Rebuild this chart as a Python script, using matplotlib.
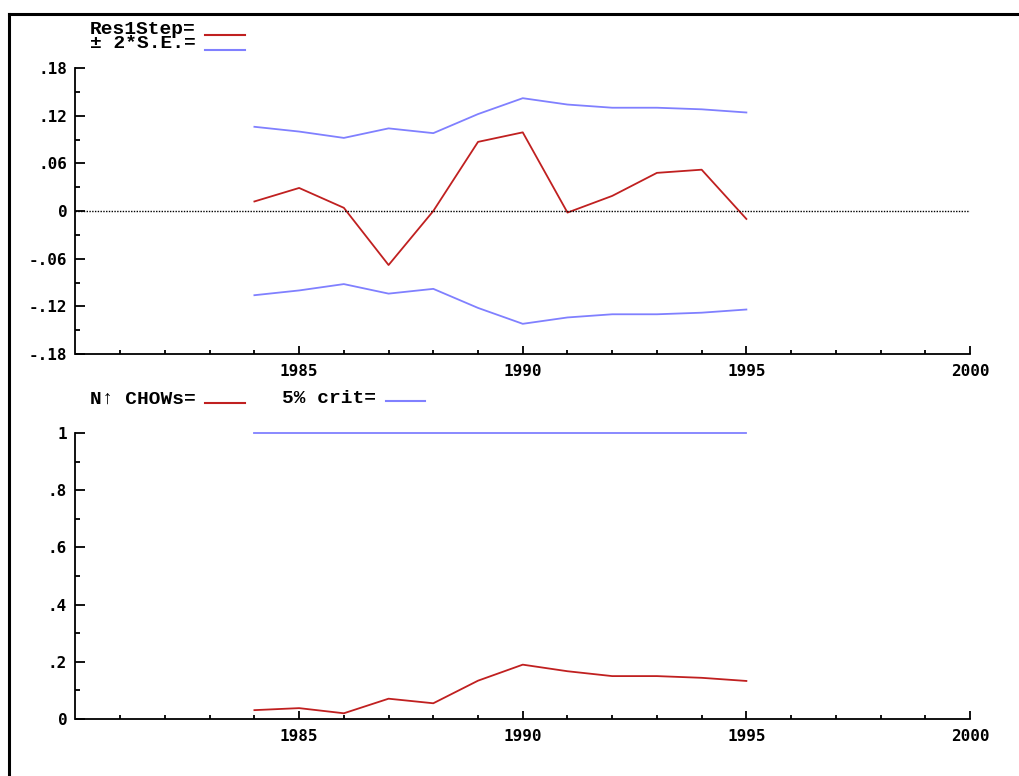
import matplotlib
matplotlib.use('Agg')
import matplotlib.pyplot as plt
from matplotlib.lines import Line2D
import numpy as np

# data
years = [1984, 1985, 1986, 1987, 1988, 1989, 1990, 1991, 1992, 1993, 1994, 1995]
res1step = [0.012, 0.029, 0.004, -0.068, 0.000, 0.087, 0.099, -0.002, 0.019, 0.048, 0.052, -0.010]
se2 = [0.106, 0.100, 0.092, 0.104, 0.098, 0.122, 0.142, 0.134, 0.130, 0.130, 0.128, 0.124]
chows = [0.031, 0.038, 0.020, 0.071, 0.055, 0.134, 0.190, 0.167, 0.150, 0.150, 0.144, 0.133]
crit = [1.0] * len(years)

top_ticks = [-0.18, -0.12, -0.06, 0, 0.06, 0.12, 0.18]
top_labels = ['-.18', '-.12', '-.06', '0', '.06', '.12', '.18']
bot_ticks = [0, 0.2, 0.4, 0.6, 0.8, 1.0]
bot_labels = ['0', '.2', '.4', '.6', '.8', '1']
x_ticks = [1985, 1990, 1995, 2000]
x_labels = ['1985', '1990', '1995', '2000']

RED = '#c02020'
BLUE = '#8080ff'
tickfont = dict(family='DejaVu Sans Mono', weight='bold', size=11.5)
legfont = dict(family='Liberation Mono', weight='bold', size=14)

fig = plt.figure(figsize=(10.2, 7.76), dpi=100)
W, H = 1020.0, 776.0

def style(ax, yt, yl, ylim, yminor):
    ax.set_xlim(1980, 2000)
    ax.set_ylim(*ylim)
    for s in ['top', 'right']:
        ax.spines[s].set_visible(False)
    ax.spines['left'].set_linewidth(1.3)
    ax.spines['bottom'].set_linewidth(1.3)
    ax.set_xticks(x_ticks)
    ax.set_xticklabels(x_labels, fontdict=tickfont)
    ax.set_xticks(np.arange(1981, 2000), minor=True)
    ax.set_yticks(yt)
    ax.set_yticklabels(yl, fontdict=tickfont)
    ax.set_yticks(yminor, minor=True)
    ax.tick_params(axis='y', which='major', direction='in', length=7, width=1.3, pad=6)
    ax.tick_params(axis='y', which='minor', direction='in', length=3.5, width=1.3)
    ax.tick_params(axis='x', which='major', direction='in', length=6, width=1.3, pad=7)
    ax.tick_params(axis='x', which='minor', direction='in', length=3, width=1.3)

ax1 = fig.add_axes([75.5 / W, 1 - 354 / H, (970 - 75.5) / W, (354 - 68) / H])
ax1.plot(years, res1step, color=RED, lw=1.3)
ax1.plot(years, se2, color=BLUE, lw=1.3)
ax1.plot(years, [-v for v in se2], color=BLUE, lw=1.3)
ax1.axhline(0, color='black', lw=1, ls=(0, (1, 1)))
style(ax1, top_ticks, top_labels, (-0.18, 0.18), np.arange(-0.15, 0.16, 0.06))

ax2 = fig.add_axes([75.5 / W, 1 - 719 / H, (970 - 75.5) / W, (719 - 433) / H])
ax2.plot(years, chows, color=RED, lw=1.3)
ax2.plot(years, crit, color=BLUE, lw=1.3, clip_on=False)
style(ax2, bot_ticks, bot_labels, (0, 1.0), np.arange(0.1, 1.0, 0.2))

# legends drawn like the original: text followed by a short line sample
def legend_item(x, y, label, color, x0, x1, yl):
    fig.text(x / W, 1 - y / H, label, ha='left', va='center', **legfont)
    fig.add_artist(Line2D([x0 / W, x1 / W], [1 - yl / H, 1 - yl / H], color=color, lw=1.5))

legend_item(90, 29, 'Res1Step=', RED, 205, 245, 35)
legend_item(90, 44, '± 2*S.E.=', BLUE, 205, 245, 50)
legend_item(90, 399, 'N↑ CHOWs=', RED, 205, 245, 403)
legend_item(282, 399, '5% crit=', BLUE, 386, 425, 401)

# outer frame (top and left edges)
fig.add_artist(Line2D([9 / W, 1], [1 - 14 / H, 1 - 14 / H], color='black', lw=2.2))
fig.add_artist(Line2D([9 / W, 9 / W], [0, 1 - 14 / H], color='black', lw=2.2))

fig.savefig('out.png', dpi=100)
